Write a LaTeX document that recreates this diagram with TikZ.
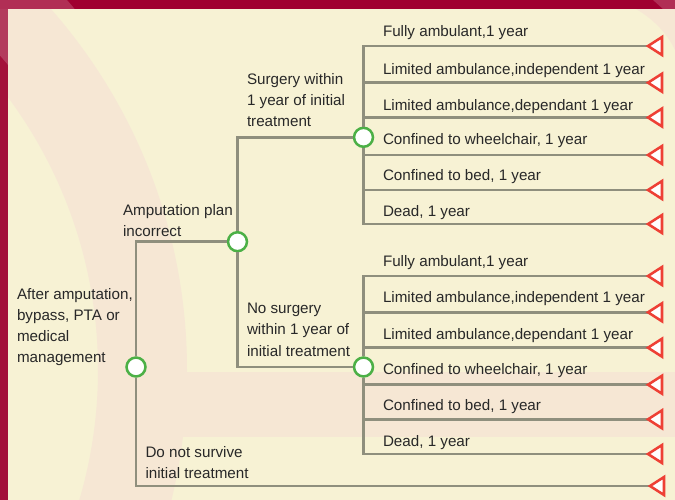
\documentclass[tikz,border=0pt]{standalone}
\usepackage{fontspec}
\setmainfont{Liberation Sans}
\usetikzlibrary{positioning}

\definecolor{cream}{RGB}{247,242,212}
\definecolor{blush}{RGB}{246,231,212}
\definecolor{maroon}{RGB}{160,0,48}
\definecolor{maroonleft}{RGB}{163,16,58}
\definecolor{branchgray}{RGB}{143,143,125}
\definecolor{nodegreen}{RGB}{76,176,70}
\definecolor{leafred}{RGB}{238,64,53}
\definecolor{labeltext}{RGB}{40,40,40}

\tikzset{every picture/.style={line width=0.75pt}}
\tikzset{
  chance/.style={circle, draw=nodegreen, fill=white, line width=1.9pt, minimum size=14.2pt, inner sep=0pt},
  branch/.style={draw=branchgray, line width=2pt},
  leaf/.style={draw=leafred, fill=white, line width=1.9pt},
  lbl/.style={anchor=base west, inner sep=0pt, text=labeltext, align=left, font=\fontsize{11.4}{15.8}\selectfont}
}

\begin{document}
\begin{tikzpicture}[x=0.75pt,y=0.75pt,yscale=-1,xscale=1]
	\useasboundingbox (0,0) rectangle (675,500);

	% Background
	\fill[cream] (0,0) rectangle (675,500);
	\begin{scope}
		\clip (8,9) rectangle (675,500);
		\fill[blush, even odd rule] (-360,370) circle [radius=547] (-360,370) circle [radius=458];
		\fill[blush] (150,372) rectangle (675,437);
		\fill[blush] (636,9) .. controls (655,20) and (668,35) .. (675,50) -- (675,9) -- cycle;
	\end{scope}
	% Border
	\fill[maroon] (0,0) rectangle (675,9);
	\fill[maroonleft] (0,9) rectangle (8,500);
	\begin{scope}
		\clip (0,0) rectangle (675,9) (0,0) rectangle (8,500);
		\fill[white, opacity=0.18, even odd rule] (-360,370) circle [radius=565] (-360,370) circle [radius=478];
	\end{scope}
	\fill[white, opacity=0.18] (653,0) -- (675,0) -- (675,9) -- (663,9) -- cycle;

	% Chance Nodes
	\node[chance] (root) at (136,367) {};
	\node[chance] (plan) at (237.5,241.7) {};
	\node[chance] (surg) at (363.5,137.3) {};
	\node[chance] (nosurg) at (363.5,367) {};

	% Leaf ends
	\coordinate (su1) at (648,46);
	\coordinate (su2) at (648,82.7);
	\coordinate (su3) at (648,117.5);
	\coordinate (su4) at (648,155);
	\coordinate (su5) at (648,190);
	\coordinate (su6) at (648,224);
	\coordinate (ns1) at (648,276);
	\coordinate (ns2) at (648,312.3);
	\coordinate (ns3) at (648,347.7);
	\coordinate (ns4) at (648,384.7);
	\coordinate (ns5) at (648,419.3);
	\coordinate (ns6) at (648,454);
	\coordinate (die) at (650,486);

	%Straight Lines
	\draw[branch] (root.north) |- (plan.west);
	\draw[branch] (root.south) |- (die);
	\draw[branch] (plan.north) |- (surg.west);
	\draw[branch] (plan.south) |- (nosurg.west);
	\draw[branch] (surg.north) |- (su1);
	\draw[branch] (surg.north) |- (su2);
	\draw[branch] (surg.north) |- (su3);
	\draw[branch] (surg.south) |- (su4);
	\draw[branch] (surg.south) |- (su5);
	\draw[branch] (surg.south) |- (su6);
	\draw[branch] (nosurg.north) |- (ns1);
	\draw[branch] (nosurg.north) |- (ns2);
	\draw[branch] (nosurg.north) |- (ns3);
	\draw[branch] (nosurg.south) |- (ns4);
	\draw[branch] (nosurg.south) |- (ns5);
	\draw[branch] (nosurg.south) |- (ns6);

	%Triangles
	\foreach \tip in {su1,su2,su3,su4,su5,su6,ns1,ns2,ns3,ns4,ns5,ns6,die}
		\draw[leaf] (\tip) -- ++(14,-9) -- ++(0,18) -- cycle;

	% Text Node (base is the last line)
	\node[lbl] (root label) at (16.5,362.4) {After amputation,\\bypass, PTA or\\medical\\management};
	\node[lbl] (plan label) at (122.5,236.7) {Amputation plan\\incorrect};
	\node[lbl] (surg label) at (246.5,126.5) {Surgery within\\1 year of initial\\treatment};
	\node[lbl] (nosurg label) at (246.5,356) {No surgery\\within 1 year of\\initial treatment};
	\node[lbl] (die label) at (145,478.7) {Do not survive\\initial treatment};
	% Text Node
	\node[lbl] (su1 label) at (382.5,36.7) {Fully ambulant,1 year};
	\node[lbl] (su2 label) at (382.5,74) {Limited ambulance,independent 1 year};
	\node[lbl] (su3 label) at (382.5,110) {Limited ambulance,dependant 1 year};
	\node[lbl] (su4 label) at (382.5,144.7) {Confined to wheelchair, 1 year};
	\node[lbl] (su5 label) at (382.5,180.7) {Confined to bed, 1 year};
	\node[lbl] (su6 label) at (382.5,216.7) {Dead, 1 year};
	% Text Node
	\node[lbl] (ns1 label) at (382.5,266) {Fully ambulant,1 year};
	\node[lbl] (ns2 label) at (382.5,302.7) {Limited ambulance,independent 1 year};
	\node[lbl] (ns3 label) at (382.5,339.7) {Limited ambulance,dependant 1 year};
	\node[lbl] (ns4 label) at (382.5,374.7) {Confined to wheelchair, 1 year};
	\node[lbl] (ns5 label) at (382.5,410) {Confined to bed, 1 year};
	\node[lbl] (ns6 label) at (382.5,446) {Dead, 1 year};

\end{tikzpicture}
\end{document}
